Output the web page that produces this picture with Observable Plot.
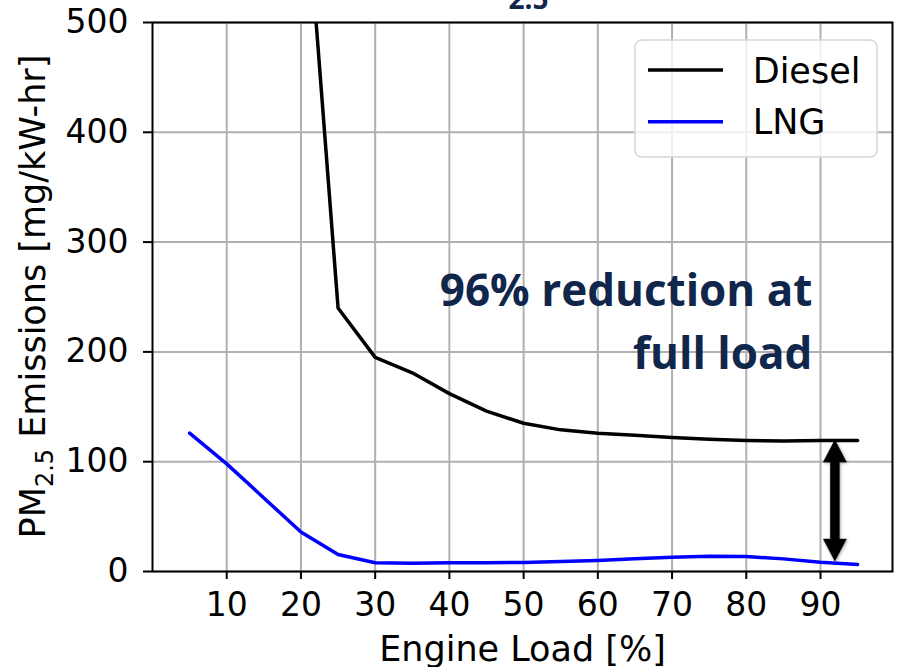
<!DOCTYPE html>
<html><head><meta charset="utf-8">
<script src="https://cdn.jsdelivr.net/npm/d3@7"></script>
<script src="https://cdn.jsdelivr.net/npm/@observablehq/plot@0.6"></script>
<style>
body{margin:0;background:#fff;}
#chart{position:relative;width:898px;height:667px;overflow:hidden;}
</style>
</head><body><div id="chart"></div>
<script>
// ---- data ----
const dieselLoad = [20, 25, 30, 35, 40, 45, 50, 55, 60, 65, 70, 75, 80, 85, 90, 95];
const dieselPM   = [680, 240, 195, 181, 162, 146, 135, 129, 126, 124, 122, 120.5, 119.3, 118.8, 119.2, 119.4];
const lngLoad = [5, 10, 15, 20, 25, 30, 35, 40, 45, 50, 55, 60, 65, 70, 75, 80, 85, 90, 95];
const lngPM   = [126, 98, 67, 36, 15.5, 8, 7.5, 8, 8, 8.3, 9, 10, 11.5, 13, 13.8, 13.6, 11.5, 8.5, 6.4];
const xTicks = [10, 20, 30, 40, 50, 60, 70, 80, 90];
const yTicks = [0, 100, 200, 300, 400, 500];
const seriesNames = ["Diesel", "LNG"];
const seriesColors = ["#000000", "#0000ff"];
const arrowX = [92];
const arrowTop = [119.3];
const arrowBottom = [9];
const noteX = [88.9];
const noteY = [184.6];
const noteText = ["96% reduction at\nfull load"];
const xLabel = "Engine Load [%]";
const titleTail = "2.5";

const navy = "#10264a";
const diesel = dieselLoad.map((x, i) => ({load: x, pm: dieselPM[i]}));
const lng = lngLoad.map((x, i) => ({load: x, pm: lngPM[i]}));
const arrow = arrowX.map((x, i) => ({x, top: arrowTop[i], bottom: arrowBottom[i]}));
const note = noteText.map((t, i) => ({t, x: noteX[i], y: noteY[i]}));

// double-headed arrow drawn through the plot's scales
function doubleArrow(index, scales, values, dimensions, context) {
  const g = d3.create("svg:g");
  const headH = 22, headW = 11.5, shaftW = 4.5;
  for (const i of index) {
    const d = arrow[i];
    const px = scales.x(d.x), yT = scales.y(d.top), yB = scales.y(d.bottom);
    const p = [
      [px, yT], [px + headW, yT + headH], [px + shaftW, yT + headH],
      [px + shaftW, yB - headH], [px + headW, yB - headH], [px, yB],
      [px - headW, yB - headH], [px - shaftW, yB - headH],
      [px - shaftW, yT + headH], [px - headW, yT + headH]
    ];
    g.append("path").attr("d", "M" + p.map(q => q.join(",")).join("L") + "Z")
      .attr("fill", "#000").attr("stroke", "#000").attr("stroke-width", 0.5)
      .style("filter", "drop-shadow(1px 1px 1.5px rgba(0,0,0,0.35))");
  }
  return g.node();
}

const plot = Plot.plot({
  width: 898, height: 667,
  marginTop: 22, marginRight: 6, marginBottom: 96, marginLeft: 152,
  style: {fontFamily: "DejaVu Sans", fontSize: "33px", color: "#000", background: "#fff", overflow: "visible"},
  x: {domain: [0, 99.7]},
  y: {domain: [0, 500]},
  marks: [
    Plot.gridX(xTicks, {stroke: "#b0b0b0", strokeOpacity: 1, strokeWidth: 2}),
    Plot.gridY(yTicks, {stroke: "#b0b0b0", strokeOpacity: 1, strokeWidth: 2}),
    Plot.line(diesel, {x: "load", y: "pm", stroke: seriesColors[0], strokeWidth: 3.5, clip: true}),
    Plot.line(lng, {x: "load", y: "pm", stroke: seriesColors[1], strokeWidth: 3.5, clip: true}),
    Plot.dot(arrow, {x: "x", y: "top", render: doubleArrow}),
    Plot.text(note, {x: "x", y: "y", text: "t", textAnchor: "end", lineAnchor: "bottom", lineHeight: 1.42,
      fontFamily: "Open Sans", fontWeight: "bold", fontSize: 44, fill: navy}),
    Plot.frame({stroke: "#000", strokeWidth: 2}),
    Plot.axisX(xTicks, {tickSize: 8, tickPadding: 13, strokeWidth: 2, label: null, fontSize: 33}),
    Plot.axisY(yTicks, {tickSize: 9, tickPadding: 15, strokeWidth: 2, label: null, fontSize: 33}),
    Plot.text([xLabel], {frameAnchor: "bottom", dy: 89, lineAnchor: "bottom", fontSize: 35}),
    Plot.text([titleTail], {frameAnchor: "top", dx: 6, dy: -14, lineAnchor: "bottom", fontSize: 28,
      fontFamily: "Open Sans", fontWeight: "bold", fill: navy})
  ]
});

const svg = d3.select(plot);
// y label with subscript
const yl = svg.append("text")
  .attr("transform", "translate(45,296.5) rotate(-90)")
  .attr("text-anchor", "middle")
  .attr("font-size", "35px")
  .attr("fill", "#000");
yl.append("tspan").text("PM");
yl.append("tspan").text("2.5").attr("font-size", "24px").attr("dy", 8);
yl.append("tspan").text(" Emissions [mg/kW-hr]").attr("dy", -8);

// legend
const lg = svg.append("g");
lg.append("rect").attr("x", 635).attr("y", 40).attr("width", 242).attr("height", 117).attr("rx", 7)
  .attr("fill", "rgba(255,255,255,0.8)").attr("stroke", "#d6d6d6").attr("stroke-width", 1.5);
seriesNames.forEach((name, i) => {
  const cy = 70 + i * 51.7;
  lg.append("line").attr("x1", 648).attr("x2", 723).attr("y1", cy).attr("y2", cy)
    .attr("stroke", seriesColors[i]).attr("stroke-width", 3.5);
  lg.append("text").attr("x", 752.7).attr("y", cy + 12.7).attr("text-anchor", "start")
    .attr("font-size", "35px").attr("fill", "#000").text(name);
});

document.getElementById("chart").appendChild(plot);
</script>
</body></html>
